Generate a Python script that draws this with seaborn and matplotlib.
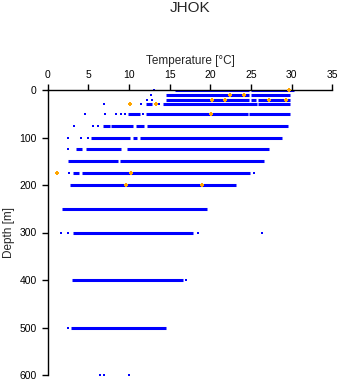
import matplotlib
matplotlib.use("Agg")
import matplotlib.pyplot as plt
import seaborn as sns
import pandas as pd

sns.set_style("ticks")
plt.rcParams['font.family'] = ['Liberation Sans', 'DejaVu Sans']

title = "JHOK"
x_label = "Temperature [°C]"
y_label = "Depth [m]"
x_ticks = [0, 5, 10, 15, 20, 25, 30, 35]
y_ticks = [0, 100, 200, 300, 400, 500, 600]

# Continuous runs of observations at each standard depth (start T, end T)
seg_depth = [0, 0,
             10, 10,
             20, 20, 20,
             30, 30, 30,
             50, 50, 50,
             75, 75, 75, 75,
             100, 100, 100,
             125, 125, 125,
             150, 150,
             175, 175,
             200,
             250,
             300,
             400,
             500]
seg_start = [15.65, 25.0,
             14.5, 25.0,
             14.5, 25.0, 25.9,
             12.05, 14.2, 25.9,
             9.9, 12.1, 24.8,
             6.75, 7.8, 10.85, 12.25,
             5.3, 10.5, 11.3,
             3.5, 4.7, 9.8,
             2.5, 8.9,
             3.15, 4.25,
             2.75,
             1.8,
             3.15,
             2.95,
             2.87]
seg_end = [24.8, 30.3,
           24.7, 29.8,
           24.7, 25.6, 29.8,
           12.8, 25.75, 29.8,
           11.3, 24.6, 29.8,
           7.65, 10.5, 11.9, 29.5,
           10.1, 11.0, 28.8,
           4.2, 9.0, 27.2,
           8.7, 26.6,
           3.9, 24.9,
           23.2,
           19.6,
           17.9,
           16.6,
           14.6]

# Isolated observations
pt_depth = [0, 10, 20, 20, 30, 30, 30, 50, 50, 50, 50, 50, 50,
            75, 75, 75, 100, 100, 100, 125, 175, 175,
            300, 300, 300, 300, 400, 500, 600, 600, 600]
pt_temp = [13.1, 12.7, 12.25, 12.8, 6.96, 11.5, 13.65, 4.6, 7.05, 8.36, 9.0, 9.5, 11.7,
           3.2, 5.6, 6.2, 2.5, 4.1, 5.0, 2.5, 2.65, 25.4,
           1.65, 2.5, 18.5, 26.3, 17.0, 2.45, 6.4, 6.95, 10.0]

# Flagged observations (orange)
flag_depth = [0, 10, 10, 20, 20, 20, 20, 30, 30, 50, 175, 175, 200, 200]
flag_temp = [29.7, 22.4, 24.2, 20.2, 21.85, 27.2, 29.35, 10.16, 13.3, 20.1, 1.2, 10.3, 9.6, 19.0]

rows = []
for i, (d, s, e) in enumerate(zip(seg_depth, seg_start, seg_end)):
    rows.append({"seg": i, "depth": d, "temp": s})
    rows.append({"seg": i, "depth": d, "temp": e})
seg_df = pd.DataFrame(rows)
pt_df = pd.DataFrame({"depth": pt_depth, "temp": pt_temp})
flag_df = pd.DataFrame({"depth": flag_depth, "temp": flag_temp})

W, H = 341, 384
fig = plt.figure(figsize=(W / 100, H / 100), dpi=100)
ax = fig.add_axes([47.7 / W, 1 - 375 / H, (332.3 - 47.7) / W, (375 - 90) / H])

sns.lineplot(data=seg_df, x="temp", y="depth", units="seg", estimator=None,
             sort=False, color="#0000ff", linewidth=2.2, ax=ax, legend=False,
             solid_capstyle="butt")
sns.scatterplot(data=pt_df, x="temp", y="depth", color="#0000ff", marker="s",
                s=4, linewidth=0, ax=ax, legend=False, clip_on=False)
sns.scatterplot(data=flag_df, x="temp", y="depth", color="#ffa500", marker="P",
                s=10, linewidth=0, ax=ax, legend=False, zorder=5, clip_on=False)

ax.set_xlim(0, 35)
ax.set_ylim(600, 0)
ax.set_xticks(x_ticks)
ax.set_yticks(y_ticks)
ax.xaxis.tick_top()
ax.xaxis.set_label_position("top")
ax.spines["bottom"].set_visible(False)
ax.spines["right"].set_visible(False)
for sp in ("top", "left"):
    ax.spines[sp].set_linewidth(1.0)
    ax.spines[sp].set_color("black")
ax.tick_params(axis="x", which="both", direction="out", length=4.5, width=1.0,
               labelsize=7.5, pad=2.5, colors="black")
ax.tick_params(axis="y", which="both", direction="out", length=4.0, width=1.0,
               labelsize=7.5, pad=4, colors="black")
ax.set_xlabel(x_label, fontsize=8.5)
ax.set_ylabel(y_label, fontsize=8.5)
ax.xaxis.set_label_coords(0.5, 1.102)
ax.xaxis.label.set_va("center")
ax.yaxis.set_label_coords(-0.135, 0.5)
ax.yaxis.label.set_va("center")

fig.text(190 / W, 1 - 8.5 / H, title, ha="center", va="center", fontsize=11)

fig.savefig("out.png", dpi=100)
